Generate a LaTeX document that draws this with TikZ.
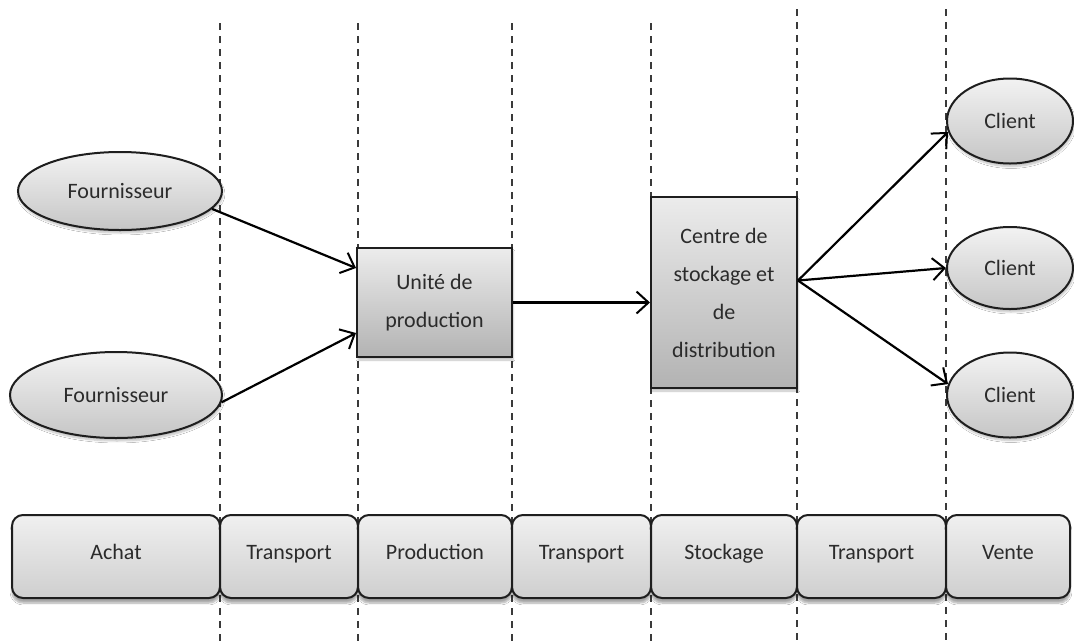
\documentclass[tikz,border=0pt]{standalone}
\usepackage{fontspec}
\setmainfont{Carlito}
\usetikzlibrary{shapes.geometric,arrows.meta,shadows.blur}
\definecolor{ink}{HTML}{2B2B2B}
\definecolor{edge}{HTML}{1E1E1E}
\definecolor{guide}{HTML}{3A3A3A}

\tikzset{
  label font/.style={font=\fontsize{22}{38}\selectfont, text=ink},
  oval/.style={ellipse, draw=edge, line width=2pt, inner sep=0pt,
    top color=gray!10, bottom color=gray!45, label font,
    blur shadow={shadow xshift=1pt, shadow yshift=-3pt, shadow opacity=25, shadow blur steps=6}},
  unit/.style={rectangle, draw=edge, line width=2pt, inner sep=0pt, align=center,
    top color=gray!15, bottom color=gray!60, label font,
    blur shadow={shadow xshift=1pt, shadow yshift=-3pt, shadow opacity=25, shadow blur steps=6}},
  phase/.style={rectangle, rounded corners=11pt, draw=edge, line width=2pt, inner sep=0pt,
    minimum height=83pt, top color=gray!12, bottom color=gray!38, label font,
    text height=0.72em, text depth=0.22em,
    blur shadow={shadow xshift=0pt, shadow yshift=-5pt, shadow opacity=35, shadow blur steps=8}},
  guideline/.style={draw=guide, line width=1.5pt, dash pattern=on 7pt off 6pt},
  flow/.style={draw=black, line width=2.2pt,
    -{Straight Barb[length=12pt,width=22pt,line width=2pt]}},
}

\begin{document}
\begin{tikzpicture}[x=1pt,y=-1pt]
\useasboundingbox (0,0) rectangle (1074,641);
\fill[white] (0,0) rectangle (1074,641);

% stage boundaries
\foreach \gx in {220,358,512,651} \draw[guideline] (\gx,23) -- (\gx,641);
\foreach \gx in {797,946} \draw[guideline] (\gx,9) -- (\gx,641);

% supply chain actors
\node[oval, minimum width=204pt, minimum height=78pt] (f1) at (120,191) {Fournisseur};
\node[oval, minimum width=212pt, minimum height=86pt] (f2) at (116,395) {Fournisseur};
\node[unit, minimum width=155pt, minimum height=109pt] (u) at (434.5,302.5) {Unité de\\production};
\node[unit, minimum width=146pt, minimum height=191pt] (c) at (724,292.5) {Centre de\\stockage et\\de\\distribution};
\node[oval, minimum width=126pt, minimum height=85pt] (k1) at (1010,121) {Client};
\node[oval, minimum width=126pt, minimum height=82pt] (k2) at (1010,268) {Client};
\node[oval, minimum width=126pt, minimum height=85pt] (k3) at (1010,395) {Client};

% flows
\draw[flow] (f1.-11) -- ([yshift=34.5pt]u.west);
\draw[flow] (f2.-4) -- ([yshift=-30.5pt]u.west);
\draw[flow] (u.east) -- (u.east -| c.west);
\draw[flow] ([yshift=12pt]c.east) -- (k1.190);
\draw[flow] ([yshift=12pt]c.east) -- (k2.west);
\draw[flow] ([yshift=12pt]c.east) -- (k3.170);

% phases
\node[phase, minimum width=208pt] (achat) at (116,556.5) {Achat};
\node[phase, minimum width=138pt] (tr1) at (289,556.5) {Transport};
\node[phase, minimum width=154pt] (prod) at (435,556.5) {Production};
\node[phase, minimum width=139pt] (tr2) at (581.5,556.5) {Transport};
\node[phase, minimum width=146pt] (stock) at (724,556.5) {Stockage};
\node[phase, minimum width=149pt] (tr3) at (871.5,556.5) {Transport};
\node[phase, minimum width=124pt] (vente) at (1008,556.5) {Vente};
\end{tikzpicture}
\end{document}
